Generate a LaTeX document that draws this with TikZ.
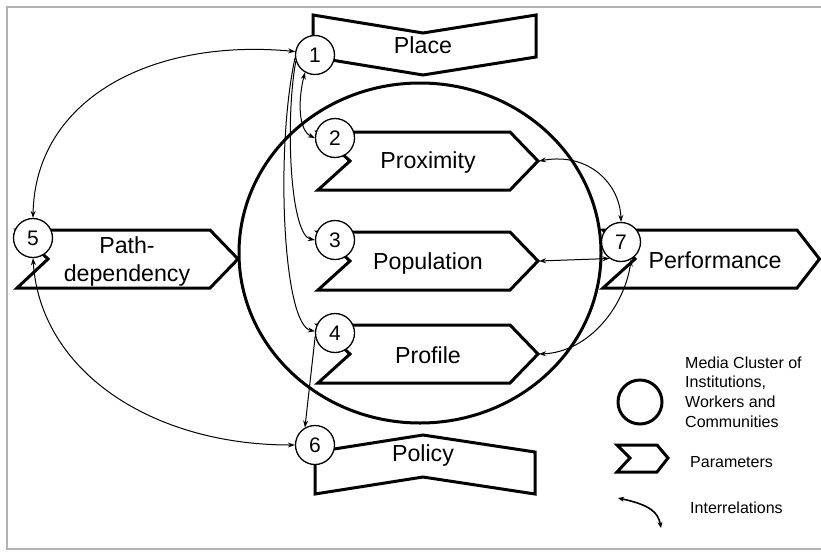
\documentclass[tikz,border=0pt]{standalone}
\usepackage{fontspec}
\setmainfont{Liberation Sans}
\usetikzlibrary{arrows.meta}
\begin{document}
\begin{tikzpicture}[x=1pt,y=-1pt,
  chev/.style={line width=3pt, fill=white, line join=miter},
  num/.style={circle, draw, line width=1.3pt, fill=white, minimum size=39pt, inner sep=0pt, font=\fontsize{21}{21}\selectfont},
  lbl/.style={font=\fontsize{23.2}{28}\selectfont, inner sep=0pt},
  leg/.style={font=\fontsize{16}{19.7}\selectfont, inner sep=0pt, align=left, anchor=west},
  rel/.style={line width=1pt, {Stealth[length=7pt,width=5pt]}-{Stealth[length=7pt,width=5pt]}},
  one/.style={line width=1pt, -{Stealth[length=7pt,width=5pt]}}]
\useasboundingbox (0,0) rectangle (821,552);
\draw[gray!60, line width=2pt] (823,7) -- (7,7) -- (7,549) -- (823,549);
% media cluster
\draw[line width=3pt] (420,253) ellipse [x radius=181, y radius=170];
% parameters
\draw[chev] (313,15) -- (423,33) -- (536,15) -- (536,57) -- (423,75) -- (313,57) -- cycle;
\draw[chev] (318,132) -- (510,132) -- (538,161) -- (510,190) -- (318,190) -- (350,161) -- cycle;
\draw[chev] (318,232) -- (510,232) -- (538,261) -- (510,290) -- (318,290) -- (350,261) -- cycle;
\draw[chev] (318,325) -- (510,325) -- (538,354) -- (510,383) -- (318,383) -- (350,354) -- cycle;
\draw[chev] (315,452) -- (423,435) -- (535,452) -- (535,494) -- (423,477) -- (315,494) -- cycle;
\draw[chev] (17,230) -- (210,230) -- (238,259) -- (210,288) -- (17,288) -- (48,259) -- cycle;
\draw[chev] (603,230) -- (797,230) -- (819.5,259) -- (797,288) -- (603,288) -- (635,259) -- cycle;
\coordinate (proxtip) at (539,161);
\coordinate (poptip) at (539,261);
\coordinate (proftip) at (539,354);
% labels
\node[lbl] (tplace) at (423,45) {Place};
\node[lbl] (tprox) at (428,162) {Proximity};
\node[lbl] (tpop) at (428,263) {Population};
\node[lbl] (tprof) at (428,355) {Profile};
\node[lbl] (tpol) at (423,455) {Policy};
\node[lbl, align=center] (tpath) at (127,261) {Path-\\dependency};
\node[lbl] (tperf) at (715,260) {Performance};
% numbered circles
\node[num] (n1) at (315,55) {1};
\node[num] (n2) at (335,138) {2};
\node[num] (n3) at (335,240) {3};
\node[num] (n4) at (335,333) {4};
\node[num] (n5) at (33,238) {5};
\node[num] (n6) at (315,445) {6};
\node[num] (n7) at (621,242) {7};
% interrelations
\draw[rel] (n1.170) .. controls (150,38) and (35,100) .. (n5.north);
\draw[rel] (n5.south) .. controls (40,370) and (150,445) .. (n6.west);
\draw[rel] (n1.240) .. controls (298,100) and (298,130) .. (n2.west);
\draw[one] (n1.198) .. controls (285,120) and (290,235) .. (n3.west);
\draw[one] (n1.188) .. controls (275,150) and (283,325) .. (n4.175);
\draw[one] (n4.190) -- (n6.120);
\draw[rel] (proxtip) .. controls (590,152) and (620,185) .. (n7.north);
\draw[rel] (poptip) -- (n7.235);
\draw[rel] (n7.300) .. controls (625,305) and (590,352) .. (proftip);
% legend
\node[circle, draw, line width=3pt, minimum size=44pt, inner sep=0pt] (legc) at (640,402) {};
\node[leg] (legt1) at (685,392) {Media Cluster of\\Institutions,\\Workers and\\Communities};
\draw[chev] (617,445) -- (657,445) -- (668,458) -- (657,472) -- (617,472) -- (630,458) -- cycle;
\node[leg] (legt2) at (690,462) {Parameters};
\coordinate (la) at (618,498);
\coordinate (lb) at (661,528);
\draw[line width=1.6pt, {Stealth[length=6pt,width=5pt]}-{Stealth[length=6pt,width=5pt]}] (la) .. controls (650,505) and (658,512) .. (lb);
\node[leg] (legt3) at (690,508) {Interrelations};
\end{tikzpicture}
\end{document}
